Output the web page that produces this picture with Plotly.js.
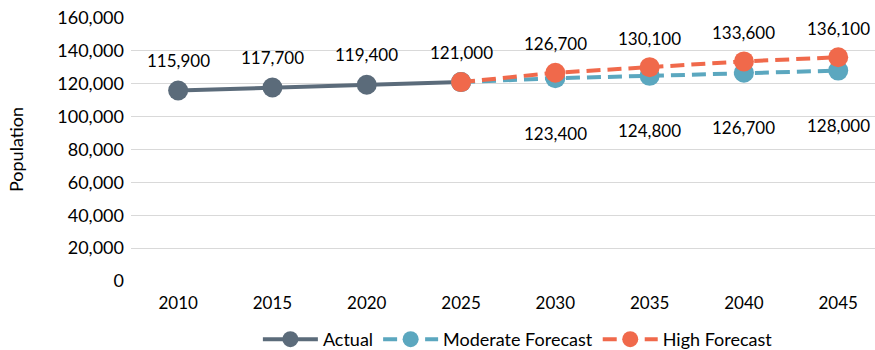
<!DOCTYPE html>
<html>
<head>
<meta charset="utf-8">
<script src="https://cdn.plot.ly/plotly-3.0.1.min.js"></script>
<style>html,body{margin:0;padding:0;background:#fff}#chart{width:875px;height:350px}</style>
</head>
<body>
<div id="chart"></div>
<script>
var years = ['2010','2015','2020','2025','2030','2035','2040','2045'];
var actualYears = ['2010','2015','2020','2025'];
var actualValues = [115900, 117700, 119400, 121000];
var forecastYears = ['2025','2030','2035','2040','2045'];
var moderateValues = [121000, 123400, 124800, 126700, 128000];
var highValues = [121000, 126700, 130100, 133600, 136100];
var yTicks = [0,20000,40000,60000,80000,100000,120000,140000,160000];

var cActual = '#5b6b7a', cMod = '#5ba7bf', cHigh = '#f0694b';
var font = 'Lato, "Open Sans", sans-serif';

function fmt(v){ return String(v).replace(/\B(?=(\d{3})+(?!\d))/g, ','); }

var traces = [
  {x: actualYears, y: actualValues, name: 'Actual', mode: 'lines+markers',
   line: {color: cActual, width: 4}, marker: {color: cActual, size: 20}},
  {x: forecastYears, y: moderateValues, name: 'Moderate Forecast', mode: 'lines+markers',
   line: {color: cMod, width: 4, dash: '14px,7px'}, marker: {color: cMod, size: 20}},
  {x: forecastYears, y: highValues, name: 'High Forecast', mode: 'lines+markers',
   line: {color: cHigh, width: 4, dash: '14px,7px'}, marker: {color: cHigh, size: 20}}
];

var ann = [];
actualYears.forEach(function(yr,i){
  ann.push({x: years.indexOf(yr), y: actualValues[i], text: fmt(actualValues[i]), yshift: 30});
});
forecastYears.forEach(function(yr,i){
  if (i === 0) return;
  ann.push({x: years.indexOf(yr), y: highValues[i], text: fmt(highValues[i]), yshift: 29});
  ann.push({x: years.indexOf(yr), y: moderateValues[i], text: fmt(moderateValues[i]), yshift: -55});
});
ann.forEach(function(a){
  a.xref = 'x'; a.yref = 'y'; a.showarrow = false;
  a.xanchor = 'center'; a.yanchor = 'middle';
  a.font = {family: font, size: 17, color: '#000'};
});

var layout = {
  width: 875, height: 350,
  margin: {l: 131, r: 0, t: 18, b: 69},
  paper_bgcolor: '#fff', plot_bgcolor: '#fff',
  showlegend: true,
  legend: {orientation: 'h', x: 0.52, xanchor: 'center', yref: 'container', y: 0.03, yanchor: 'middle',
           itemwidth: 55, font: {family: font, size: 18, color: '#000'}},
  xaxis: {type: 'category', categoryorder: 'array', categoryarray: years, automargin: false,
          range: [-0.5, 7.39], showgrid: false, zeroline: false, showline: false,
          ticks: '', ticklabelstandoff: 10, tickfont: {family: font, size: 17, color: '#000'}},
  yaxis: {range: [0, 160000], tickvals: yTicks, ticktext: yTicks.map(fmt), automargin: false,
          showgrid: true, gridcolor: '#d9d9d9', gridwidth: 1, zeroline: false,
          ticks: '', ticklabelstandoff: 6, tickfont: {family: font, size: 18, color: '#000'},
          title: {text: 'Population', font: {family: font, size: 18, color: '#000'}, standoff: 28}},
  annotations: ann,
  font: {family: font}
};

Plotly.newPlot('chart', traces, layout, {displayModeBar: false, staticPlot: true});
</script>
</body>
</html>
